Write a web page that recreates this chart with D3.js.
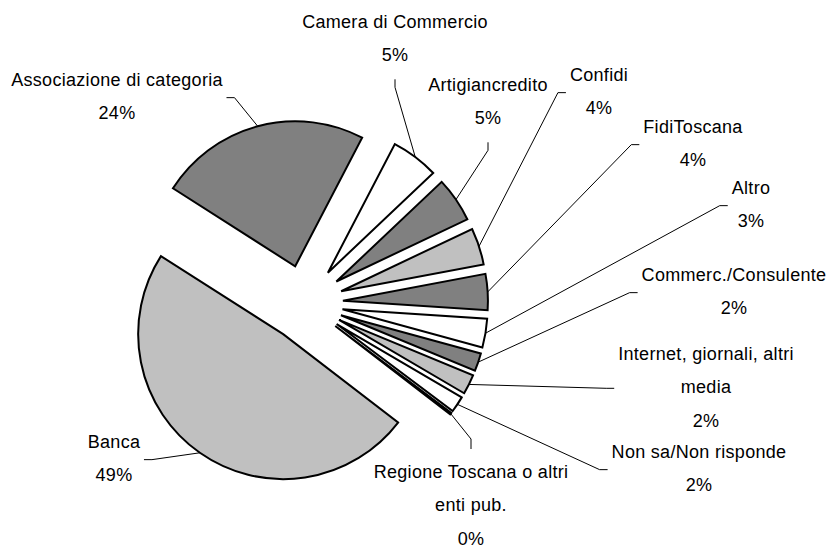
<!DOCTYPE html>
<html>
<head>
<meta charset="utf-8">
<script src="https://cdn.jsdelivr.net/npm/d3@7"></script>
<style>
  body { margin: 0; background: #fff; }
  svg { display: block; }
  .lbl { font-family: "Liberation Sans", Arial, sans-serif; font-size: 18px; letter-spacing: 0.3px; fill: #000; }
</style>
</head>
<body>
<div class="container"></div>
<script>
// data (clockwise from the first slice)
var categories = ["Camera di Commercio", "Artigiancredito", "Confidi", "FidiToscana", "Altro",
    "Commerc./Consulente", "Internet, giornali, altri\nmedia", "Non sa/Non risponde",
    "Regione Toscana o altri\nenti pub.", "Banca", "Associazione di categoria"];
var values = [5.3, 5.0, 4.1, 4.0, 3.2, 2.0, 2.2, 1.8, 0.2, 48.6, 23.6];

// styles
var fills = ["#ffffff", "#808080", "#c0c0c0", "#808080", "#ffffff", "#808080",
    "#c0c0c0", "#ffffff", "#ffffff", "#c0c0c0", "#808080"];

// label layout: centre x, first baseline, where the leader line attaches
var labelX = [395, 488, 599, 693, 751, 734, 706, 699, 471, 114, 117];
var labelY = [28, 91, 81, 133, 194, 281, 360, 458, 478, 448, 86];
var attach = ["bottom", "bottom", "left", "left", "left", "left", "left", "left", "top", "right", "right"];

var width = 828, height = 549;
var cx = 305, cy = 303;
var radius = 145;
var explode = 38;
var lineH = 33.3;
var rad = Math.PI / 180;

var data = categories.map(function(c, i) { return {name: c, value: values[i], i: i}; });
var total = d3.sum(values);

var svg = d3.select(".container").append("svg").attr("width", width).attr("height", height);

var pie = d3.pie().value(function(d) { return d.value; }).sort(null)
    .startAngle(27.5 * rad).endAngle(387.5 * rad);
var arc = d3.arc().innerRadius(0).outerRadius(radius);
var arcs = pie(data);

function mid(d) { return (d.startAngle + d.endAngle) / 2; }

var g = svg.append("g").attr("transform", "translate(" + cx + "," + cy + ")");

g.selectAll("path")
    .data(arcs)
    .enter().append("path")
    .attr("d", arc)
    .attr("transform", function(d) {
        var a = mid(d);
        return "translate(" + (Math.sin(a) * explode) + "," + (-Math.cos(a) * explode) + ")";
    })
    .attr("fill", function(d) { return fills[d.data.i]; })
    .attr("stroke", "#000")
    .attr("stroke-width", 2)
    .attr("stroke-linejoin", "miter");

// labels + leader lines
var lg = svg.append("g");
arcs.forEach(function(d) {
    var i = d.data.i;
    var lines = d.data.name.split("\n");
    lines.push(Math.round(d.data.value / total * 100) + "%");
    var t = lg.append("text").attr("class", "lbl").attr("text-anchor", "middle");
    lines.forEach(function(s, k) {
        t.append("tspan").attr("x", labelX[i]).attr("y", labelY[i] + k * lineH).text(s);
    });
    var bb = t.node().getBBox();
    var firstB = labelY[i], lastB = labelY[i] + (lines.length - 1) * lineH;
    var midY = (firstB + lastB) / 2 - 5;
    var e, p;
    if (attach[i] == "bottom") { e = [labelX[i], lastB + 18]; p = [e[0], e[1] + 8]; }
    else if (attach[i] == "top") { e = [labelX[i], firstB - 29]; p = [e[0], e[1] - 10]; }
    else if (attach[i] == "left") { e = [bb.x - 4, midY]; p = [e[0] - 8, e[1]]; }
    else { e = [bb.x + bb.width + 3, midY]; p = [e[0] + 8, e[1]]; }
    var a = mid(d);
    var ax = cx + Math.sin(a) * (explode + radius);
    var ay = cy - Math.cos(a) * (explode + radius);
    lg.append("path")
        .attr("d", "M" + ax + "," + ay + "L" + p[0] + "," + p[1] + "L" + e[0] + "," + e[1])
        .attr("fill", "none")
        .attr("stroke", "#000")
        .attr("stroke-width", 1);
});
</script>
</body>
</html>
